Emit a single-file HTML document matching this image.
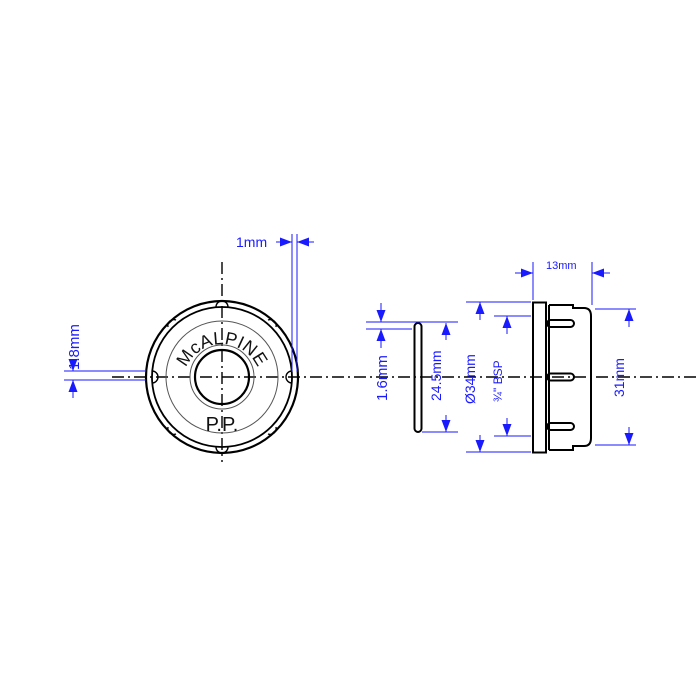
<!DOCTYPE html>
<html><head><style>body{margin:0;background:#fff}svg{display:block}</style></head><body>
<svg width="700" height="700" viewBox="0 0 700 700" xmlns="http://www.w3.org/2000/svg" font-family="Liberation Sans, sans-serif">
<defs>
<marker id="a" markerWidth="12" markerHeight="9" refX="12" refY="4.5" orient="auto" markerUnits="userSpaceOnUse"><path d="M0,0 L12,4.5 L0,9z" fill="#1a1aff"/></marker>
<path id="arc" d="M 184 392 A 39 39 0 1 1 260 392"/>
</defs>
<g stroke="#000" stroke-width="1.4" stroke-dasharray="12,4,2,4" fill="none">
<line x1="112" y1="377" x2="700" y2="377"/>
<line x1="222" y1="262" x2="222" y2="462"/>
</g>
<g fill="none" stroke="#000">
<circle cx="222" cy="377" r="76" stroke-width="2.2"/>
<circle cx="222" cy="377" r="70" stroke-width="1.8"/>
<circle cx="222" cy="377" r="56" stroke="#555" stroke-width="1"/>
<circle cx="222" cy="377" r="32" stroke="#555" stroke-width="1"/>
<circle cx="222" cy="377" r="27" stroke-width="2.2"/>
<g stroke-width="1.4">
<path d="M216 307 A6 6 0 0 1 228 307"/><path d="M216 447 A6 6 0 0 0 228 447"/>
<path d="M152 371 A6 6 0 0 1 152 383"/><path d="M292 371 A6 6 0 0 0 292 383"/>
<path d="M168 327 A6 6 0 0 1 176 320"/><path d="M268 320 A6 6 0 0 1 276 327"/>
<path d="M168 427 A6 6 0 0 0 176 434"/><path d="M268 434 A6 6 0 0 0 276 427"/>
</g>
</g>
<text font-size="18" fill="#111" letter-spacing="0.3"><textPath href="#arc" startOffset="50%" text-anchor="middle">McALPINE</textPath></text>
<text x="222" y="431" font-size="20" text-anchor="middle" fill="#111">P.P.</text>
<rect x="414.5" y="323" width="7" height="109" rx="3.5" fill="none" stroke="#000" stroke-width="2"/>
<g fill="none" stroke="#000" stroke-width="2">
<rect x="533" y="302.5" width="13" height="150"/>
<line x1="549" y1="305" x2="549" y2="450"/>
<path d="M549 305 H573 V308 H584 Q591 308 591 316 V438 Q591 446 584 446 H573 V450 H549"/>
<rect x="547" y="320" width="27" height="7" rx="3.5"/>
<rect x="547" y="373.5" width="27" height="7" rx="3.5"/>
<rect x="547" y="423" width="27" height="7" rx="3.5"/>
</g>
<g stroke="#1a1aff" stroke-width="1" fill="none">
<line x1="292" y1="234" x2="292" y2="372"/><line x1="297" y1="234" x2="297" y2="372"/>
<line x1="276" y1="242" x2="292" y2="242" marker-end="url(#a)"/>
<line x1="314" y1="242" x2="297" y2="242" marker-end="url(#a)"/>
<line x1="64" y1="371" x2="146" y2="371"/><line x1="64" y1="380" x2="146" y2="380"/>
<line x1="73" y1="360" x2="73" y2="371" marker-end="url(#a)"/>
<line x1="73" y1="398" x2="73" y2="380" marker-end="url(#a)"/>
<line x1="366" y1="322" x2="458" y2="322"/><line x1="366" y1="329" x2="412" y2="329"/>
<line x1="381" y1="303" x2="381" y2="322" marker-end="url(#a)"/>
<line x1="381" y1="348" x2="381" y2="329" marker-end="url(#a)"/>
<line x1="422" y1="432" x2="458" y2="432"/>
<line x1="446" y1="340" x2="446" y2="323" marker-end="url(#a)"/>
<line x1="446" y1="415" x2="446" y2="432" marker-end="url(#a)"/>
<line x1="466" y1="302" x2="531" y2="302"/><line x1="466" y1="452" x2="531" y2="452"/>
<line x1="480" y1="320" x2="480" y2="302" marker-end="url(#a)"/>
<line x1="480" y1="435" x2="480" y2="452" marker-end="url(#a)"/>
<line x1="494" y1="316" x2="531" y2="316"/><line x1="494" y1="436" x2="531" y2="436"/>
<line x1="507" y1="334" x2="507" y2="316" marker-end="url(#a)"/>
<line x1="507" y1="418" x2="507" y2="436" marker-end="url(#a)"/>
<line x1="533" y1="262" x2="533" y2="300"/><line x1="592" y1="262" x2="592" y2="305"/>
<line x1="515" y1="273" x2="533" y2="273" marker-end="url(#a)"/>
<line x1="610" y1="273" x2="592" y2="273" marker-end="url(#a)"/>
<line x1="595" y1="309" x2="636" y2="309"/><line x1="595" y1="445" x2="636" y2="445"/>
<line x1="629" y1="327" x2="629" y2="309" marker-end="url(#a)"/>
<line x1="629" y1="427" x2="629" y2="445" marker-end="url(#a)"/>
</g>
<g fill="#1a1aff" font-size="14">
<text x="236" y="247">1mm</text>
<text x="546" y="269" font-size="11">13mm</text>
<text transform="translate(79,370) rotate(-90)" font-size="15">1.8mm</text>
<text transform="translate(387,401) rotate(-90)" font-size="15">1.6mm</text>
<text transform="translate(441,401) rotate(-90)">24.5mm</text>
<text transform="translate(475,404) rotate(-90)">Ø34mm</text>
<text transform="translate(502,402) rotate(-90)" font-size="12">¾" BSP</text>
<text transform="translate(624,397) rotate(-90)">31mm</text>
</g>
</svg>
</body></html>
